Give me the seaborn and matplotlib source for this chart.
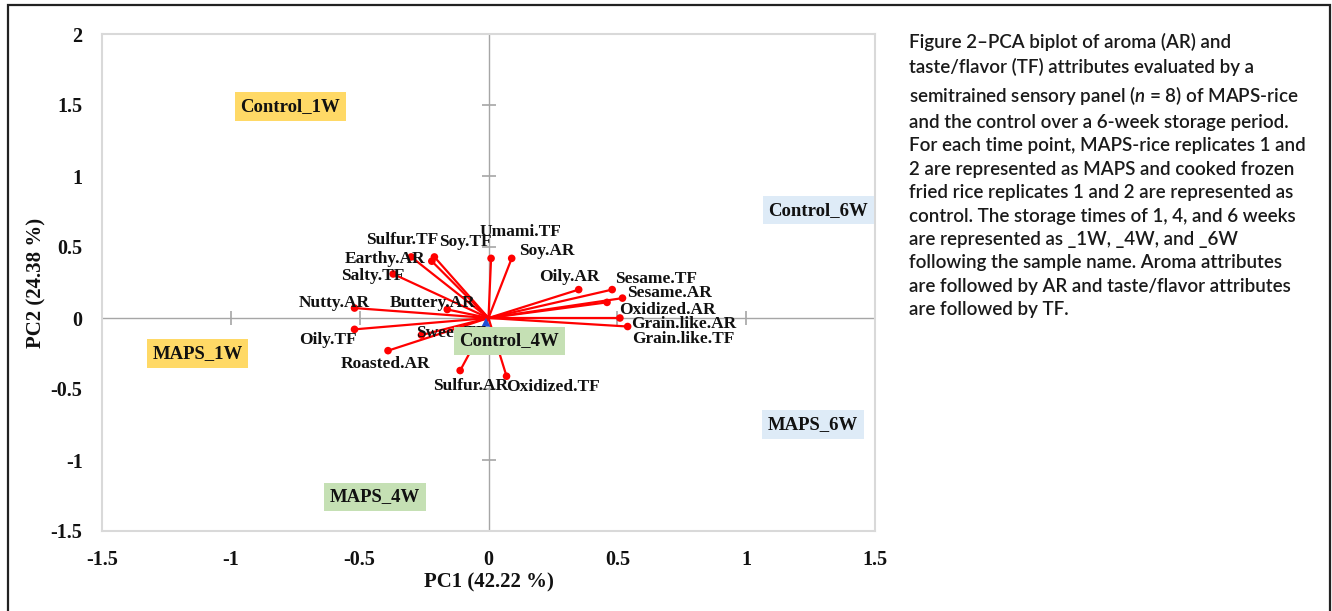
import numpy as np
import pandas as pd
import seaborn as sns
import matplotlib.pyplot as plt
from matplotlib.patches import Rectangle

# attribute loadings (PC1, PC2)
attributes = ['Sulfur.TF', 'Soy.TF', 'Earthy.AR', 'Umami.TF', 'Soy.AR', 'Salty.TF',
              'Nutty.AR', 'Buttery.AR', 'Oily.TF', 'Sweet.TF', 'Roasted.AR', 'Sulfur.AR',
              'Oxidized.TF', 'Oily.AR', 'Sesame.TF', 'Sesame.AR', 'Oxidized.AR',
              'Grain.like.AR', 'Grain.like.TF']
pc1 = [-0.21, -0.22, -0.30, 0.01, 0.09, -0.37,
       -0.52, -0.16, -0.52, -0.26, -0.39, -0.11,
       0.07, 0.35, 0.48, 0.52, 0.46,
       0.51, 0.54]
pc2 = [0.43, 0.40, 0.43, 0.42, 0.42, 0.31,
       0.07, 0.06, -0.08, -0.12, -0.23, -0.37,
       -0.41, 0.20, 0.20, 0.14, 0.11,
       0.00, -0.06]

# sample scores
samples = ['Control_1W', 'MAPS_1W', 'Control_4W', 'MAPS_4W', 'Control_6W', 'MAPS_6W']
sample_pc1 = [-0.77, -1.13, 0.08, -0.44, 1.28, 1.26]
sample_pc2 = [1.49, -0.25, -0.16, -1.26, 0.76, -0.75]
sample_week = ['1W', '1W', '4W', '4W', '6W', '6W']

centroid_pc1 = [-0.01]
centroid_pc2 = [-0.03]

xtick_vals = [-1.5, -1, -0.5, 0, 0.5, 1, 1.5]
ytick_vals = [-1.5, -1, -0.5, 0, 0.5, 1, 1.5, 2]
xtick_labels = ['-1.5', '-1', '-0.5', '0', '0.5', '1', '1.5']
ytick_labels = ['-1.5', '-1', '-0.5', '0', '0.5', '1', '1.5', '2']

caption = ("Figure 2\u2013PCA biplot of aroma (AR) and\n"
           "taste/flavor (TF) attributes evaluated by a\n"
           "semitrained sensory panel ($n$ = 8) of MAPS-rice\n"
           "and the control over a 6-week storage period.\n"
           "For each time point, MAPS-rice replicates 1 and\n"
           "2 are represented as MAPS and cooked frozen\n"
           "fried rice replicates 1 and 2 are represented as\n"
           "control. The storage times of 1, 4, and 6 weeks\n"
           "are represented as _1W, _4W, and _6W\n"
           "following the sample name. Aroma attributes\n"
           "are followed by AR and taste/flavor attributes\n"
           "are followed by TF.")

# label offsets in pixels (label centre relative to arrow tip)
label_offsets = {
    'Sulfur.TF': (-32, 17), 'Soy.TF': (34, 19), 'Earthy.AR': (-26, -2),
    'Umami.TF': (29, 26), 'Soy.AR': (35, 7), 'Salty.TF': (-20, -2),
    'Nutty.AR': (-20, 5), 'Buttery.AR': (-15, 6), 'Oily.TF': (-27, -11),
    'Sweet.TF': (30, 2), 'Roasted.AR': (-2, -13), 'Sulfur.AR': (10, -15),
    'Oxidized.TF': (46, -11), 'Oily.AR': (-9, 13), 'Sesame.TF': (44, 11),
    'Sesame.AR': (47, 5), 'Oxidized.AR': (60, -8), 'Grain.like.AR': (64, -6),
    'Grain.like.TF': (56, -12),
}
week_colors = {'1W': '#FFD966', '4W': '#C5E0B4', '6W': '#DEEBF7'}

df = pd.DataFrame({'attr': attributes, 'pc1': pc1, 'pc2': pc2})

sns.set_theme(style='white')
plt.rcParams['font.family'] = ['Liberation Serif', 'DejaVu Serif']
plt.rcParams['mathtext.fontset'] = 'custom'
plt.rcParams['mathtext.it'] = 'Lato:italic:semibold'
plt.rcParams['mathtext.rm'] = 'Lato'

fig = plt.figure(figsize=(13.32, 6.11), dpi=100)
ax = fig.add_axes([102 / 1332, 1 - 531 / 611, 773 / 1332, 497 / 611])

# zero lines with small cross ticks
grey = '#A6A6A6'
ax.axhline(0, color=grey, lw=1, zorder=1)
ax.axvline(0, color=grey, lw=1, zorder=1)
ax.plot(np.zeros(len(ytick_vals)), ytick_vals, ls='none', marker='_', ms=9.5,
        mew=1.2, color=grey, zorder=1)
ax.plot(xtick_vals, np.zeros(len(xtick_vals)), ls='none', marker='|', ms=9.5,
        mew=1.2, color=grey, zorder=1)

# vectors
for _, r in df.iterrows():
    ax.plot([0, r.pc1], [0, r.pc2], color='#FF0000', lw=1.6, zorder=2,
            solid_capstyle='round')
sns.scatterplot(data=df, x='pc1', y='pc2', color='#FF0000', s=30,
                edgecolor='none', ax=ax, zorder=3, legend=False)
sns.scatterplot(x=centroid_pc1, y=centroid_pc2, marker='^', color='#1F4FD6',
                s=40, edgecolor='none', ax=ax, zorder=2.5, legend=False)

for _, r in df.iterrows():
    dx, dy = label_offsets[r.attr]
    ax.annotate(r.attr, (r.pc1, r.pc2), xytext=(dx, dy), textcoords='offset pixels',
                ha='center', va='center', fontsize=12.5, fontweight='bold',
                color='#111111', zorder=4)

# sample boxes sit on top of vectors and labels, as in the original
for name, x, y, w in zip(samples, sample_pc1, sample_pc2, sample_week):
    ax.text(x, y, name, ha='center', va='center', fontsize=13.5, fontweight='bold',
            color='#111111', zorder=6,
            bbox=dict(boxstyle='square,pad=0.3', fc=week_colors[w], ec='none'))

ax.set_xlim(-1.5, 1.5)
ax.set_ylim(-1.5, 2)
ax.set_xticks(xtick_vals)
ax.set_yticks(ytick_vals)
ax.set_xticklabels(xtick_labels)
ax.set_yticklabels(ytick_labels)
ax.tick_params(axis='both', length=0, labelsize=14.5, colors='#111111', pad=14)
for lab in ax.get_xticklabels() + ax.get_yticklabels():
    lab.set_fontweight('bold')
for sp in ax.spines.values():
    sp.set_color('#D9D9D9')
    sp.set_linewidth(1.5)

ax.set_xlabel('PC1 (42.22 %)', fontsize=15, fontweight='bold', color='#111111')
ax.set_ylabel('PC2 (24.38 %)', fontsize=15, fontweight='bold', color='#111111')
ax.xaxis.label.set_va('center')
ax.yaxis.label.set_va('center')
ax.xaxis.set_label_coords(0.5, (531 - 582) / 497)
ax.yaxis.set_label_coords((36 - 102) / 773, 0.5)

fig.text(909 / 1332, 1 - 33 / 611, caption, ha='left', va='top', fontsize=13.5,
         family='Lato', fontweight='semibold', color='#1a1a1a', linespacing=1.46)

fig.add_artist(Rectangle((8 / 1332, -0.1), (1330 - 8) / 1332, 1 - 5 / 611 + 0.1,
                         transform=fig.transFigure, fill=False, ec='#222222', lw=1.6))

fig.savefig('out.png', dpi=100)
